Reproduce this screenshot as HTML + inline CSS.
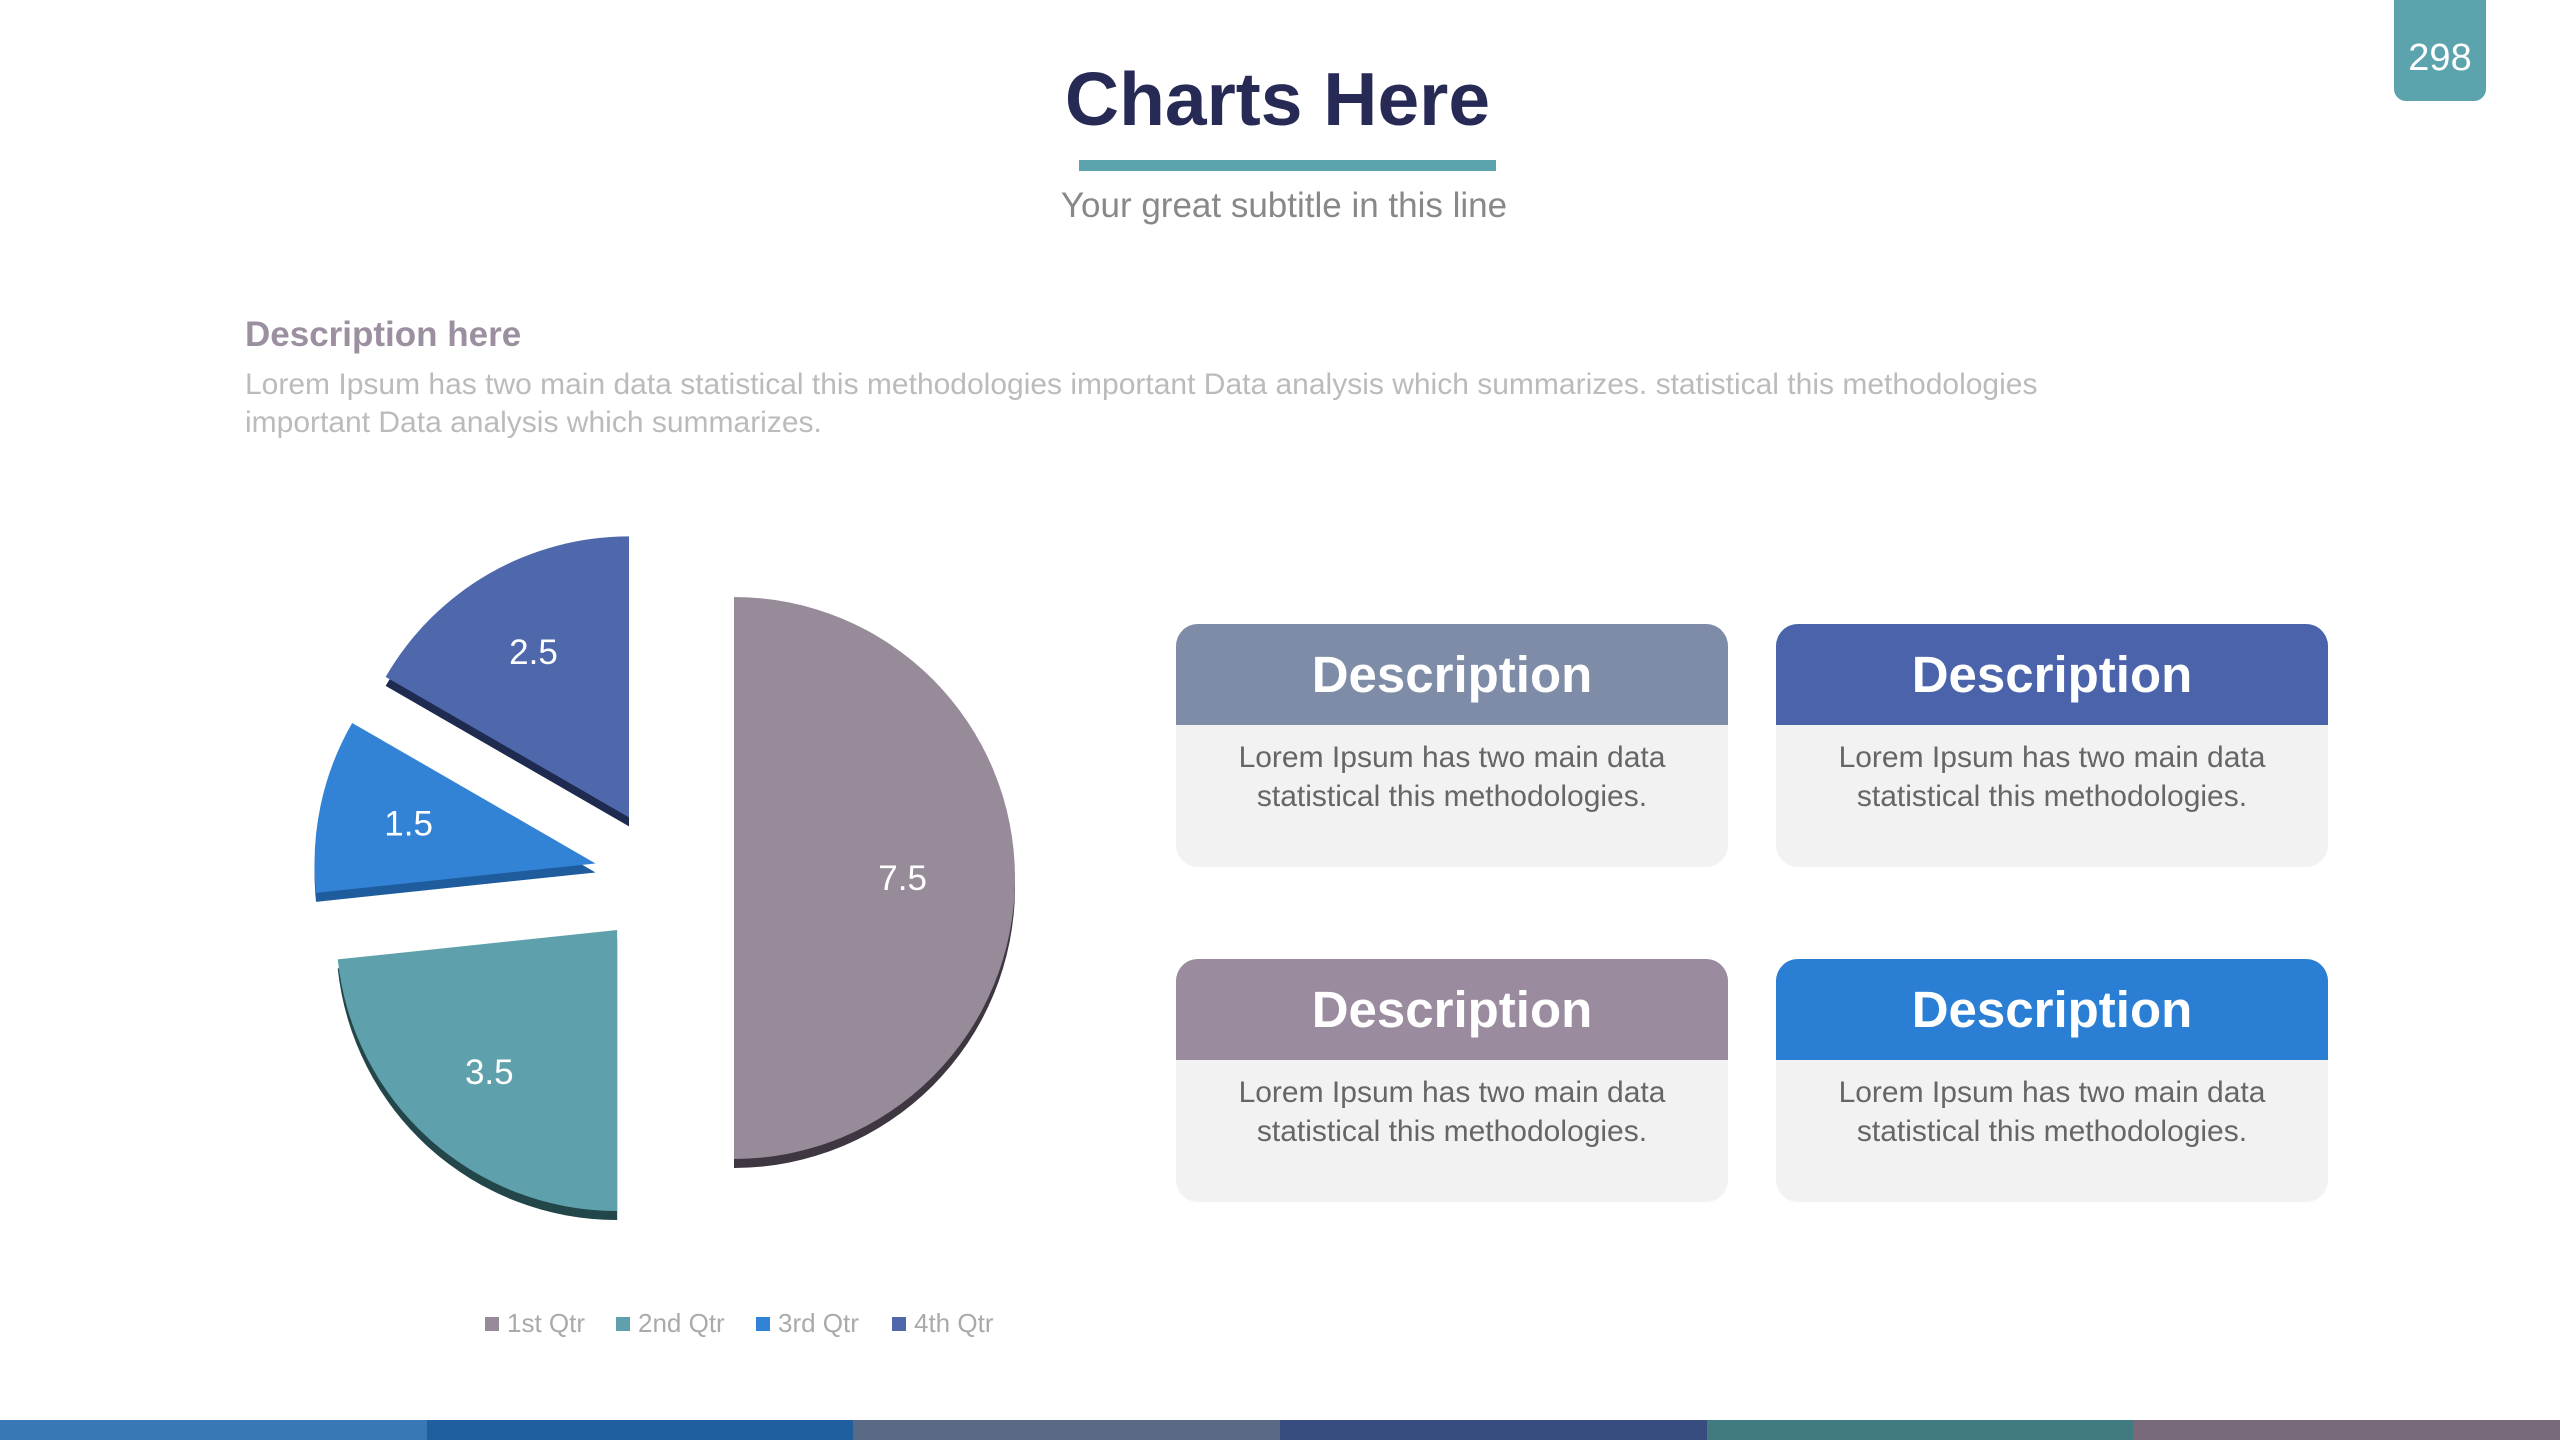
<!DOCTYPE html>
<html><head><meta charset="utf-8"><style>
*{margin:0;padding:0;box-sizing:border-box}
body{width:2560px;height:1440px;background:#fff;position:relative;overflow:hidden;font-family:"Liberation Sans",sans-serif}
.abs{position:absolute}
.card{position:absolute;width:552px;height:243px;border-radius:22px;background:#f2f2f2;overflow:hidden}
.card .hd{height:101px;color:#fff;font-weight:bold;font-size:51px;text-align:center;line-height:101px}
.card .bd{color:#666;font-size:30px;line-height:39px;text-align:center;padding-top:13px}
.leg{position:absolute;top:1308px;font-size:26px;color:#aaa;line-height:30px}
.leg i{display:inline-block;width:14px;height:14px;margin-right:8px;vertical-align:1px}
</style></head><body>
<div class="abs" style="left:2394px;top:0;width:92px;height:101px;background:#5ba3ad;border-radius:0 0 12px 12px;color:#fff;font-size:38px;text-align:center;line-height:116px">298</div>
<div class="abs" style="left:0;width:2560px;top:56px;text-align:center;font-size:75px;font-weight:bold;color:#262a55;padding-right:5px">Charts Here</div>
<div class="abs" style="left:1079px;top:160px;width:417px;height:11px;background:#5ba3ad"></div>
<div class="abs" style="left:0;width:2568px;top:186px;text-align:center;font-size:35px;color:#888">Your great subtitle in this line</div>
<div class="abs" style="left:245px;top:315px;font-size:35px;font-weight:bold;color:#9b8fa0">Description here</div>
<div class="abs" style="left:245px;top:366px;width:1860px;font-size:30px;line-height:38px;color:#bbb">Lorem Ipsum has two main data statistical this methodologies important Data analysis which summarizes. statistical this methodologies important Data analysis which summarizes.</div>

<svg class="abs" style="left:0;top:0" width="1150" height="1300" id="pie"></svg>

<div class="leg" style="left:485px"><i style="background:#978b9a"></i>1st Qtr</div>
<div class="leg" style="left:616px"><i style="background:#5ea1ac"></i>2nd Qtr</div>
<div class="leg" style="left:756px"><i style="background:#3283d6"></i>3rd Qtr</div>
<div class="leg" style="left:892px"><i style="background:#4e68ab"></i>4th Qtr</div>

<div class="card" style="left:1176px;top:624px"><div class="hd" style="background:#7f8ca8">Description</div><div class="bd">Lorem Ipsum has two main data<br>statistical this methodologies.</div></div>
<div class="card" style="left:1776px;top:624px"><div class="hd" style="background:#4a63ab">Description</div><div class="bd">Lorem Ipsum has two main data<br>statistical this methodologies.</div></div>
<div class="card" style="left:1176px;top:959px"><div class="hd" style="background:#9a8c9e">Description</div><div class="bd">Lorem Ipsum has two main data<br>statistical this methodologies.</div></div>
<div class="card" style="left:1776px;top:959px"><div class="hd" style="background:#2a7fd4">Description</div><div class="bd">Lorem Ipsum has two main data<br>statistical this methodologies.</div></div>

<div class="abs" style="left:0;top:1420px;width:2560px;height:20px;display:flex">
<div style="flex:1;background:#3878b4"></div><div style="flex:1;background:#1f5f9f"></div><div style="flex:1;background:#5a6a85"></div><div style="flex:1;background:#374d80"></div><div style="flex:1;background:#427a82"></div><div style="flex:1;background:#786a7b"></div></div>

<script>
const categories=["1st Qtr","2nd Qtr","3rd Qtr","4th Qtr"];
const values=[7.5,3.5,1.5,2.5];
const labels=["7.5","3.5","1.5","2.5"];
const colors=["#978b9a","#5ea1ac","#3283d6","#4e68ab"];
const sides=["#3e3640","#23464a","#1e5c9e","#1f2a50"];
const svg=document.getElementById('pie');
const NS="http://www.w3.org/2000/svg";
const cx=664,cy=878,R=281,EX=70,D=9;
const total=values.reduce((a,b)=>a+b,0);
function pt(x,y,a,r){return [x+r*Math.sin(a),y-r*Math.cos(a)];}
let start=0;
values.forEach((v,i)=>{
  const sweep=v/total*2*Math.PI, mid=start+sweep/2;
  const ox=cx+EX*Math.sin(mid), oy=cy-EX*Math.cos(mid);
  const p=(dy)=>{const a=pt(ox,oy+dy,start,R),b=pt(ox,oy+dy,start+sweep,R);
    return `M${ox},${oy+dy}L${a[0]},${a[1]}A${R},${R} 0 ${sweep>Math.PI?1:0} 1 ${b[0]},${b[1]}Z`;};
  const s=document.createElementNS(NS,'path');
  s.setAttribute('d',p(D));s.setAttribute('fill',sides[i]);
  
  
  svg.appendChild(s);
  const f=document.createElementNS(NS,'path');
  f.setAttribute('d',p(0));f.setAttribute('fill',colors[i]);
  
  
  svg.appendChild(f);
  const lp=pt(ox,oy,mid,R*(v<5?0.68:0.6));
  const t=document.createElementNS(NS,'text');
  t.setAttribute('x',lp[0]);t.setAttribute('y',lp[1]+12);
  t.setAttribute('text-anchor','middle');t.setAttribute('fill','#fff');
  t.setAttribute('font-size','35');t.setAttribute('font-family','Liberation Sans, sans-serif');
  t.textContent=labels[i];
  
  
  svg.appendChild(t);
  start+=sweep;
});
</script>
</body></html>
